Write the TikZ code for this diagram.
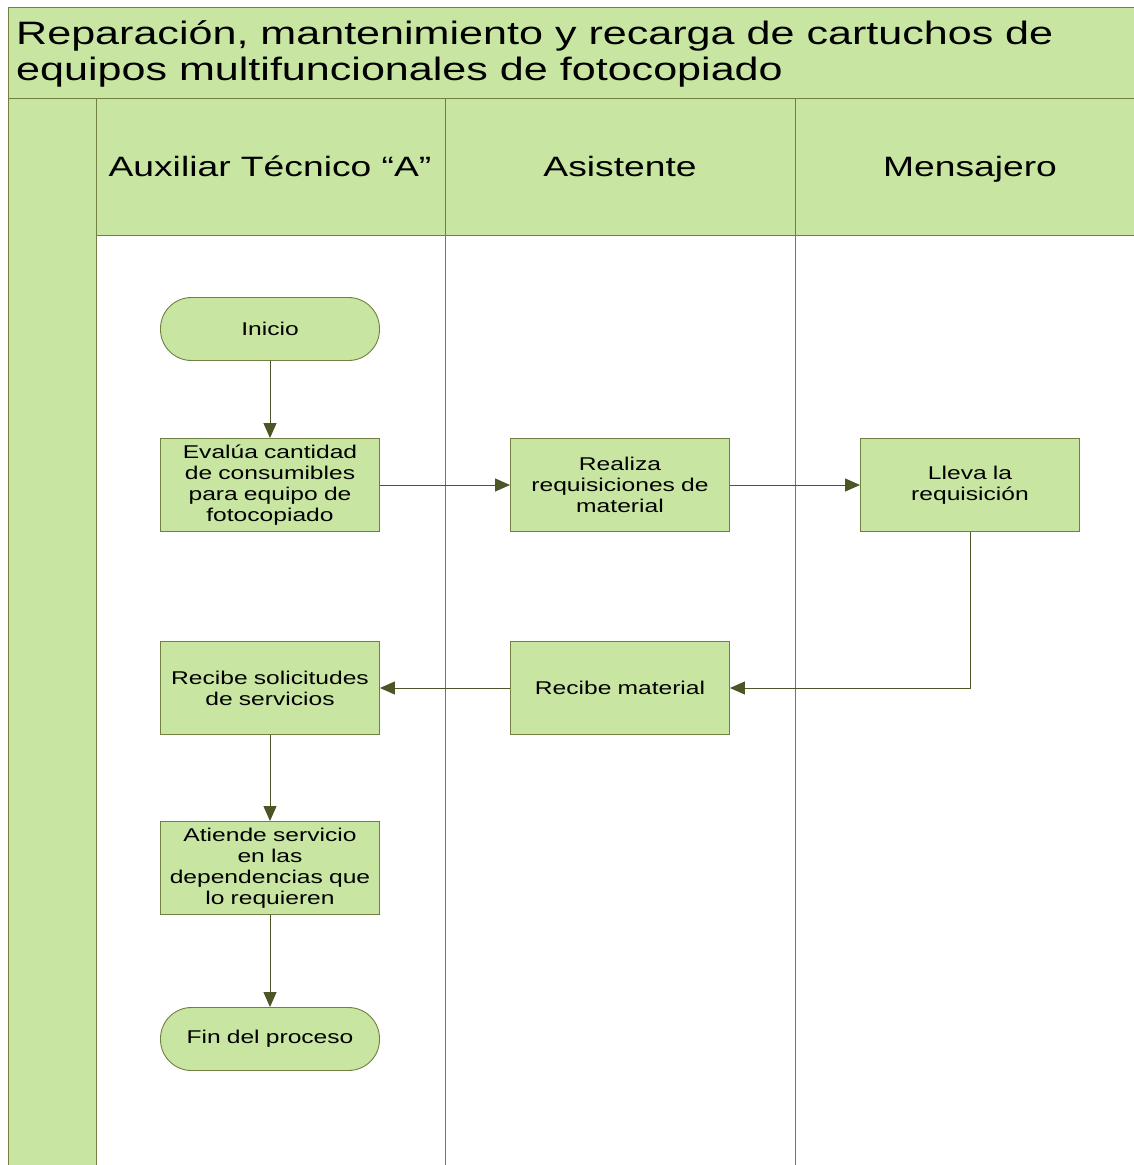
\documentclass[tikz,border=0pt]{standalone}
\usepackage{fontspec}
\setmainfont[FakeStretch=1.33]{Liberation Sans}
\usepackage{xcolor}
\usetikzlibrary{arrows.meta, positioning}

\definecolor{lanegreen}{RGB}{200,230,161}
\definecolor{laneline}{RGB}{112,128,64}
\definecolor{flowline}{RGB}{75,85,38}

\begin{document}
\begin{tikzpicture}[x=1pt, y=-1pt]
  \tikzset{
    stepbox/.style={draw=laneline, fill=lanegreen, line width=0.9pt, minimum width=219pt, minimum height=93pt, align=center, text width=213pt, inner sep=2pt, font=\fontsize{18.5}{21}\selectfont},
    terminal/.style={stepbox, minimum height=63pt, rounded corners=31pt},
    flow/.style={draw=flowline, line width=0.9pt, -{Triangle[length=15pt, width=13pt]}},
    lanehead/.style={anchor=base, font=\fontsize{28}{34}\selectfont}
  }
  \useasboundingbox (0,0) rectangle (1133,1165);

  % Title and lanes
  \fill[lanegreen] (8,7) rectangle (1145,98);
  \fill[lanegreen] (96,98) rectangle (1145,235);
  \fill[lanegreen] (8,98) rectangle (96,1175);
  \draw[laneline, line width=0.9pt] (1145,7) -- (8,7) -- (8,1175);
  \draw[laneline, line width=0.9pt] (8,98) -- (1145,98);
  \draw[laneline, line width=0.9pt] (96,235) -- (1145,235);
  \foreach \x in {96, 445, 795}
    \draw[laneline, line width=0.9pt] (\x,98) -- (\x,1175);
  \node[anchor=north west, align=left, inner sep=0pt, font=\fontsize{32.4}{36}\selectfont] (title) at (16,20)
    {Reparación, mantenimiento y recarga de cartuchos de\\equipos multifuncionales de fotocopiado};
  \node[lanehead] (auxiliar) at (270,176) {Auxiliar Técnico “A”};
  \node[lanehead] (asistente) at (620,176) {Asistente};
  \node[lanehead] (mensajero) at (970,176) {Mensajero};

  % Steps
  \node[terminal] (inicio) at (270,329) {Inicio};
  \node[stepbox] (evalua) at (270,485) {Evalúa cantidad\\de consumibles\\para equipo de\\fotocopiado};
  \node[stepbox] (realiza) at (620,485) {Realiza\\requisiciones de\\material};
  \node[stepbox] (lleva) at (970,485) {Lleva la\\requisición};
  \node[stepbox] (recmat) at (620,688) {Recibe material};
  \node[stepbox] (recsol) at (270,688) {Recibe solicitudes\\de servicios};
  \node[stepbox] (atiende) at (270,868) {Atiende servicio\\en las\\dependencias que\\lo requieren};
  \node[terminal] (fin) at (270,1039) {Fin del proceso};

  % Flow
  \draw[flow] (inicio) -- (evalua);
  \draw[flow] (evalua) -- (realiza);
  \draw[flow] (realiza) -- (lleva);
  \draw[flow] (lleva.south) |- (recmat.east);
  \draw[flow] (recmat) -- (recsol);
  \draw[flow] (recsol) -- (atiende);
  \draw[flow] (atiende) -- (fin);
\end{tikzpicture}
\end{document}
